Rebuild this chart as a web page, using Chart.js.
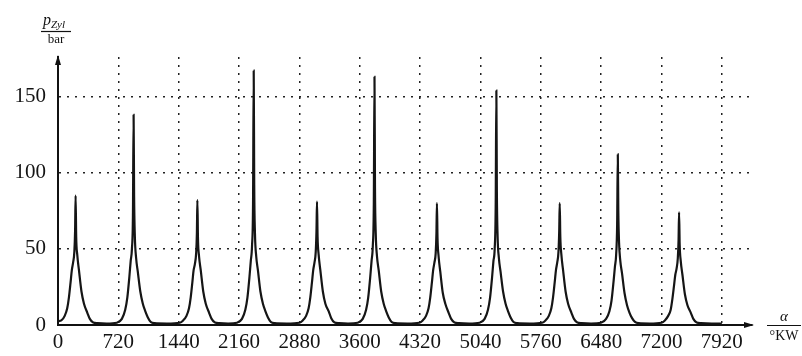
<!DOCTYPE html>
<html>
<head>
<meta charset="utf-8">
<script src="https://cdn.jsdelivr.net/npm/chart.js@4.4.1/dist/chart.umd.min.js"></script>
<style>
  html, body { margin: 0; padding: 0; background: #fff; }
  canvas { display: block; }
</style>
</head>
<body>
<canvas id="chart" width="802" height="356"></canvas>
<script>
// crank angle in degrees (°KW)
const alpha = [
  0, 40, 80, 110, 130, 150, 165, 180, 195, 204, 210, 217, 230, 250, 280, 310, 350, 380, 420, 470,
  580,
  702, 762, 802, 827, 852, 867, 882, 894, 902, 908, 917, 932, 952, 982, 1012, 1042, 1072, 1107, 1152,
  1300,
  1453, 1493, 1533, 1563, 1583, 1603, 1618, 1633, 1648, 1657, 1663, 1670, 1683, 1703, 1733, 1763, 1803, 1833, 1873, 1923,
  2030,
  2135, 2195, 2235, 2260, 2285, 2300, 2315, 2327, 2335, 2341, 2350, 2365, 2385, 2415, 2445, 2475, 2505, 2540, 2585,
  2730,
  2880, 2920, 2960, 2990, 3010, 3030, 3045, 3060, 3075, 3084, 3090, 3097, 3110, 3130, 3160, 3190, 3230, 3260, 3300, 3350,
  3460,
  3576, 3636, 3676, 3701, 3726, 3741, 3756, 3768, 3776, 3782, 3791, 3806, 3826, 3856, 3886, 3916, 3946, 3981, 4026,
  4170,
  4311, 4351, 4391, 4421, 4441, 4461, 4476, 4491, 4506, 4515, 4521, 4528, 4541, 4561, 4591, 4621, 4661, 4691, 4731, 4781,
  4905,
  5030, 5090, 5130, 5155, 5180, 5195, 5210, 5222, 5230, 5236, 5245, 5260, 5280, 5310, 5340, 5370, 5400, 5435, 5480,
  5630,
  5776, 5816, 5856, 5886, 5906, 5926, 5941, 5956, 5971, 5980, 5986, 5993, 6006, 6026, 6056, 6086, 6126, 6156, 6196, 6246,
  6360,
  6479, 6539, 6579, 6604, 6629, 6644, 6659, 6671, 6679, 6685, 6694, 6709, 6729, 6759, 6789, 6819, 6849, 6884, 6929,
  7060,
  7200, 7240, 7280, 7310, 7330, 7350, 7365, 7380, 7395, 7404, 7410, 7417, 7430, 7450, 7480, 7510, 7550, 7580, 7620, 7670,
  7800, 7920
];

// cylinder pressure in bar
const pZyl = [
  2.5, 3, 6, 11, 18, 28, 36, 41, 48, 62, 85, 58, 46, 36, 22, 14, 8, 4, 1.6, 1.2,
  1,
  1.5, 4, 10, 18, 32, 42, 50, 72, 138, 85, 58, 44, 35, 22, 14, 9, 5, 2, 1.2,
  1,
  1.5, 3, 6, 11, 18, 28, 36, 40, 47, 60, 82, 57, 45, 36, 22, 14, 8, 4, 1.6, 1.2,
  1,
  1.5, 4, 10, 18, 32, 42, 52, 80, 167, 92, 60, 45, 36, 22, 14, 9, 5, 2, 1.2,
  1,
  1.5, 3, 6, 11, 18, 28, 36, 41, 48, 62, 81, 58, 46, 36, 22, 14, 9, 4.5, 1.6, 1.2,
  1,
  1.5, 4, 10, 18, 32, 42, 52, 80, 163, 90, 60, 45, 36, 22, 14, 9, 5, 2, 1.2,
  1,
  1.5, 3, 6, 11, 18, 28, 36, 41, 47, 60, 80, 57, 45, 35, 21, 14, 8, 4, 1.6, 1.2,
  1,
  1.5, 4, 10, 18, 32, 42, 50, 78, 154, 88, 58, 44, 35, 22, 14, 9, 5, 2, 1.2,
  1,
  1.5, 3, 6, 11, 18, 28, 36, 41, 48, 62, 80, 58, 46, 36, 22, 14, 8, 4, 1.6, 1.2,
  1,
  1.5, 4, 9, 16, 29, 38, 46, 66, 112, 75, 54, 42, 34, 21, 13, 8, 4.5, 2, 1.2,
  1,
  1.5, 3, 6, 10, 17, 26, 33, 37, 44, 56, 74, 53, 42, 33, 20, 13, 8, 4, 1.6, 1.2,
  1, 1
];

const xTicks = [0, 720, 1440, 2160, 2880, 3600, 4320, 5040, 5760, 6480, 7200, 7920];
const yTicks = [0, 50, 100, 150];

const serif = "'Liberation Serif', 'DejaVu Serif', serif";

// arrows on the axes and the fraction style axis titles
const axisDecor = {
  id: "axisDecor",
  afterDraw(chart) {
    const { ctx, chartArea } = chart;
    const left = chartArea.left;
    const bottom = chartArea.bottom;
    ctx.save();
    ctx.fillStyle = "#111";
    ctx.strokeStyle = "#111";

    // y arrow
    ctx.beginPath();
    ctx.moveTo(left, chartArea.top - 2);
    ctx.lineTo(left - 3, chartArea.top + 8);
    ctx.lineTo(left + 3, chartArea.top + 8);
    ctx.closePath();
    ctx.fill();

    // x arrow
    ctx.beginPath();
    ctx.moveTo(chartArea.right + 2, bottom);
    ctx.lineTo(chartArea.right - 8, bottom - 3);
    ctx.lineTo(chartArea.right - 8, bottom + 3);
    ctx.closePath();
    ctx.fill();

    // p_Zyl / bar
    ctx.textBaseline = "alphabetic";
    ctx.textAlign = "left";
    ctx.font = "italic 16px " + serif;
    ctx.fillText("p", 43, 25);
    ctx.font = "italic 11px " + serif;
    ctx.fillText("Zyl", 51, 28);
    ctx.lineWidth = 1.2;
    ctx.beginPath();
    ctx.moveTo(41, 31.5);
    ctx.lineTo(71, 31.5);
    ctx.stroke();
    ctx.textAlign = "center";
    ctx.font = "13px " + serif;
    ctx.fillText("bar", 56, 43);

    // alpha / °KW
    ctx.font = "italic 15px " + serif;
    ctx.fillText("α", 784, 321);
    ctx.beginPath();
    ctx.moveTo(767, bottom + 0.5);
    ctx.lineTo(801, bottom + 0.5);
    ctx.stroke();
    ctx.font = "14px " + serif;
    ctx.fillText("°KW", 784, 340);
    ctx.restore();
  },
};

const points = alpha.map((a, i) => ({ x: a, y: pZyl[i] }));

new Chart(document.getElementById("chart"), {
  type: "line",
  data: {
    datasets: [
      {
        data: points,
        borderColor: "#151515",
        borderWidth: 2.2,
        pointRadius: 0,
        fill: false,
        cubicInterpolationMode: "monotone",
      },
    ],
  },
  options: {
    responsive: false,
    animation: false,
    devicePixelRatio: 1,
    layout: { padding: { left: 0, right: 50, top: 57, bottom: 0 } },
    plugins: { legend: { display: false }, tooltip: { enabled: false } },
    scales: {
      x: {
        type: "linear",
        min: 0,
        max: 8280,
        afterBuildTicks: (scale) => {
          scale.ticks = xTicks.map((v) => ({ value: v }));
        },
        afterFit: (scale) => {
          scale.height = 31;
        },
        grid: { color: "#222", lineWidth: 1.5, drawTicks: false },
        border: { display: true, color: "#111", width: 2, dash: [2, 6] },
        ticks: {
          color: "#141414",
          font: { family: serif, size: 21 },
          padding: 5,
          maxRotation: 0,
          autoSkip: false,
          callback: (v) => String(v),
        },
      },
      y: {
        min: 0,
        max: 176,
        afterBuildTicks: (scale) => {
          scale.ticks = yTicks.map((v) => ({ value: v }));
        },
        afterFit: (scale) => {
          scale.width = 58;
        },
        grid: { color: "#222", lineWidth: 1.5, drawTicks: false },
        border: { display: true, color: "#111", width: 2, dash: [2, 6] },
        ticks: {
          color: "#141414",
          font: { family: serif, size: 21 },
          padding: 12,
          callback: (v) => String(v),
        },
      },
    },
  },
  plugins: [axisDecor],
});
</script>
</body>
</html>
